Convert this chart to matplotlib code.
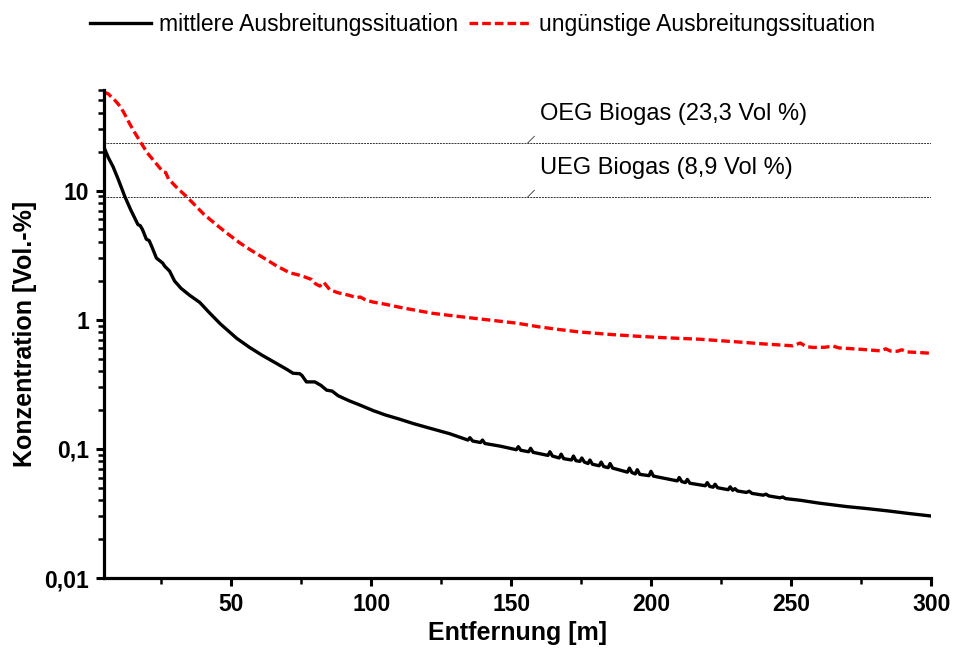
import matplotlib
matplotlib.use('Agg')
import matplotlib.pyplot as plt
from matplotlib.ticker import FixedLocator, NullFormatter

plt.rcParams['font.family'] = ['Liberation Sans', 'DejaVu Sans']

# mittlere Ausbreitungssituation
x_mittel = [4.5, 6, 7.7, 9.5, 11.9, 14, 16.6, 17.4, 18.2, 19.6, 20.6, 21.5, 23.2, 24.5,
            25.4, 26.2, 27.9, 29.7, 32, 35, 38.7, 42, 46, 51.8, 56.5, 61, 66, 70, 72,
            74.4, 75.2, 76.8, 79.8, 82, 84, 86, 88.1, 92, 96, 100.6, 105, 110, 115,
            120.9, 128, 134.5, 135.2, 136.2, 139, 139.7, 140.6, 146, 151.8, 152.5,
            153.4, 156.2, 156.9, 157.8, 163.1, 163.8, 164.7, 167.1, 167.8, 168.7,
            171.5, 172.2, 173.1, 174.5, 175.2, 176.1, 177.4, 178.1, 179.0, 181.4,
            182.1, 183.0, 184.6, 185.3, 186.2, 191.5, 192.2, 193.1, 194.3, 195.0,
            195.9, 199.2, 199.9, 200.8, 209.3, 210.0, 210.9, 212.2, 212.9, 213.8,
            219.3, 220.0, 220.9, 222.1, 222.8, 223.7, 227.5, 228.2, 229.1, 229.9,
            230.8, 234, 235, 236, 240, 241, 242, 246, 247, 248, 253.2, 260, 270,
            277, 285, 292, 300]
y_mittel = [21.5, 18.0, 15.3, 12.3, 9.0, 7.1, 5.45, 5.35, 5.0, 4.2, 4.1, 3.7, 3.0, 2.85,
            2.75, 2.59, 2.38, 1.99, 1.75, 1.55, 1.36, 1.14, 0.93, 0.72, 0.61, 0.53,
            0.46, 0.41, 0.385, 0.382, 0.37, 0.33, 0.33, 0.31, 0.285, 0.28, 0.258,
            0.236, 0.218, 0.198, 0.183, 0.170, 0.157, 0.1445, 0.131, 0.117, 0.122,
            0.115, 0.112, 0.117, 0.110, 0.105, 0.0985, 0.104, 0.0975, 0.095, 0.101,
            0.094, 0.089, 0.095, 0.088, 0.085, 0.091, 0.084, 0.082, 0.088, 0.081,
            0.080, 0.085, 0.079, 0.077, 0.082, 0.076, 0.074, 0.079, 0.073, 0.0715,
            0.077, 0.071, 0.066, 0.071, 0.0655, 0.064, 0.069, 0.0635, 0.062, 0.067,
            0.0615, 0.0565, 0.060, 0.0558, 0.0548, 0.058, 0.0542, 0.0518, 0.0548,
            0.0512, 0.0505, 0.0532, 0.0500, 0.0483, 0.0508, 0.0478, 0.0492, 0.0472,
            0.0460, 0.0470, 0.0452, 0.0438, 0.0446, 0.0432, 0.0418, 0.0424, 0.0412,
            0.0400, 0.0380, 0.0357, 0.0345, 0.0330, 0.0316, 0.0302]

# ungünstige Ausbreitungssituation
x_ungst = [4.5, 6, 8, 9.45, 10.5, 12, 13.6, 15.5, 17.8, 20, 22.5, 25.5, 26.5, 27.5, 28.5,
           30, 33.9, 37, 40, 44.6, 48, 53, 57, 62.5, 66, 70.8, 74, 76, 78.6, 80, 81.6,
           83, 85.1, 88, 92.3, 94.7, 96, 98, 100.6, 104, 107.8, 110, 116.1, 122, 128,
           136, 144.7, 152, 160, 167, 174.3, 185, 195, 205, 217.4, 230, 240, 247.2,
           250.5, 253.2, 255.5, 258, 262, 265, 267, 275, 281.8, 283.8, 285.5, 288,
           289.5, 291.5, 295, 300]
y_ungst = [58, 56, 51, 47, 44, 38.5, 33, 28, 23.2, 19.5, 16.8, 14.0, 13.8, 12.3, 11.7,
           10.8, 9.0, 7.7, 6.6, 5.44, 4.75, 3.93, 3.45, 2.92, 2.62, 2.31, 2.22, 2.15,
           2.05, 1.9, 1.82, 1.95, 1.71, 1.62, 1.54, 1.48, 1.50, 1.42, 1.37, 1.33, 1.28,
           1.25, 1.18, 1.12, 1.08, 1.03, 0.98, 0.94, 0.88, 0.84, 0.804, 0.77, 0.745,
           0.725, 0.706, 0.675, 0.65, 0.635, 0.628, 0.66, 0.618, 0.61, 0.612, 0.625,
           0.605, 0.59, 0.574, 0.595, 0.572, 0.57, 0.585, 0.563, 0.558, 0.55]

# Explosionsgrenzen
grenz_werte = [23.3, 8.9]
grenz_texte = ['OEG Biogas (23,3 Vol %)', 'UEG Biogas (8,9 Vol %)']

y_ticks = [0.01, 0.1, 1, 10]
y_tick_labels = ['0,01', '0,1', '1', '10']
x_ticks = [50, 100, 150, 200, 250, 300]

fig = plt.figure(figsize=(9.55, 6.48), dpi=100)
ax = fig.add_axes([0.109, 0.108, 0.866, 0.753])

ax.plot(x_mittel, y_mittel, color='black', lw=2.4, label='mittlere Ausbreitungssituation')
ax.plot(x_ungst, y_ungst, color='#ff0000', lw=2.4, linestyle=(0, (2.6, 1.2)),
        label='ungünstige Ausbreitungssituation')

for wert, txt in zip(grenz_werte, grenz_texte):
    ax.axhline(wert, color='#333333', lw=0.7, linestyle=(0, (2, 1)), zorder=1)
    ax.annotate('', xy=(155.8, wert), xytext=(5, 5), textcoords='offset points',
                arrowprops=dict(arrowstyle='-', lw=0.6, color='#333333',
                                shrinkA=0, shrinkB=0))
    ax.annotate(txt, xy=(155.8, wert), xytext=(9, 21), textcoords='offset points',
                fontsize=17, va='center', ha='left')

ax.set_yscale('log')
ax.set_xlim(4.5, 300)
ax.set_ylim(0.01, 60)

ax.yaxis.set_major_locator(FixedLocator(y_ticks))
ax.set_yticklabels(y_tick_labels)
ax.yaxis.set_minor_formatter(NullFormatter())
ax.xaxis.set_major_locator(FixedLocator(x_ticks))
ax.xaxis.set_minor_locator(FixedLocator([25, 75, 125, 175, 225, 275]))

for s in ['top', 'right']:
    ax.spines[s].set_visible(False)
for s in ['left', 'bottom']:
    ax.spines[s].set_linewidth(2.3)

ax.tick_params(which='major', direction='out', length=6, width=2.2, pad=5,
               labelsize=16.5)
ax.tick_params(which='minor', direction='out', length=4.5, width=1.8)
for lab in ax.get_xticklabels() + ax.get_yticklabels():
    lab.set_fontweight('bold')

ax.set_xlabel('Entfernung [m]', fontsize=18, fontweight='bold', labelpad=3.5)
ax.set_ylabel('Konzentration [Vol.-%]', fontsize=18, fontweight='bold', labelpad=5)

fig.legend(loc='center', bbox_to_anchor=(0.505, 0.962), ncol=2, frameon=False,
           fontsize=16.5, handlelength=2.7, handletextpad=0.35, columnspacing=0.45)

fig.savefig('out.png', dpi=100)
